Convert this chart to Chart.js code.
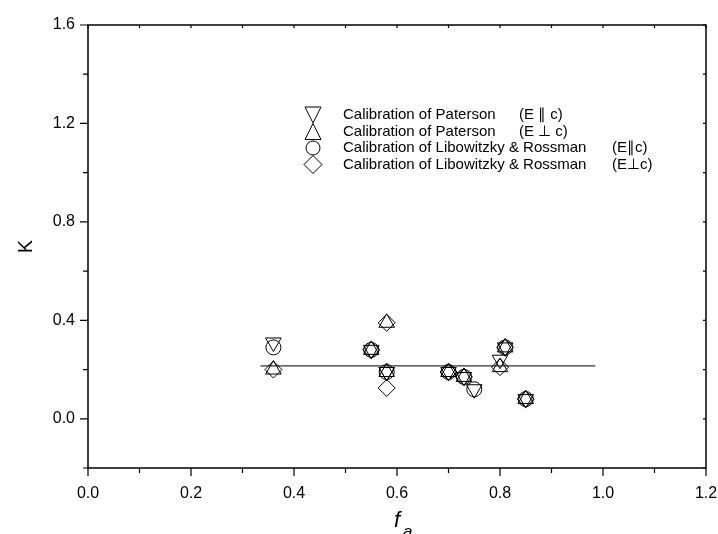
<!DOCTYPE html>
<html>
<head>
<meta charset="utf-8">
<script src="https://cdn.jsdelivr.net/npm/chart.js@4.4.1/dist/chart.umd.min.js"></script>
<style>
  html, body { margin: 0; padding: 0; background: #fff; }
</style>
</head>
<body>
<canvas id="kChart" width="718" height="534"></canvas>
<script>
// Paterson calibration, E || c  (down triangles)
const patParX = [0.36, 0.55, 0.58, 0.58, 0.70, 0.73, 0.75, 0.80, 0.81, 0.85];
const patParK = [0.31, 0.28, 0.19, 0.19, 0.19, 0.17, 0.12, 0.24, 0.29, 0.08];
// Paterson calibration, E _|_ c  (up triangles)
const patPerpX = [0.36, 0.55, 0.58, 0.58, 0.70, 0.73, 0.80, 0.81, 0.85];
const patPerpK = [0.20, 0.28, 0.39, 0.19, 0.19, 0.17, 0.21, 0.29, 0.08];
// Libowitzky & Rossman, E || c  (circles)
const libParX = [0.36, 0.55, 0.58, 0.70, 0.73, 0.75, 0.81, 0.85];
const libParK = [0.29, 0.28, 0.19, 0.19, 0.17, 0.12, 0.29, 0.08];
// Libowitzky & Rossman, E _|_ c  (diamonds)
const libPerpX = [0.36, 0.55, 0.58, 0.58, 0.70, 0.73, 0.80, 0.81, 0.85];
const libPerpK = [0.20, 0.28, 0.39, 0.125, 0.19, 0.17, 0.21, 0.29, 0.08];
// mean line
const meanX = [0.335, 0.985];
const meanK = [0.215, 0.215];

const xTicks = [0.0, 0.2, 0.4, 0.6, 0.8, 1.0, 1.2];
const yTicks = [0.0, 0.4, 0.8, 1.2, 1.6];

const legendLabels = [
  ['Calibration of Paterson', '(E \u2225 c)'],
  ['Calibration of Paterson', '(E \u22A5 c)'],
  ['Calibration of Libowitzky & Rossman', '(E\u2225c)'],
  ['Calibration of Libowitzky & Rossman', '(E\u22A5c)']
];

const pts = (xs, ys) => xs.map((x, i) => ({ x: x, y: ys[i] }));

const FONT = "'Liberation Sans', Arial, Helvetica, sans-serif";

// frame with ticks on all four sides (outer on left/bottom, small inner on top/right)
const framePlugin = {
  id: 'frame',
  afterDraw(chart) {
    const ctx = chart.ctx;
    const a = chart.chartArea;
    const xs = chart.scales.x, ys = chart.scales.y;
    ctx.save();
    ctx.strokeStyle = '#000';
    ctx.lineWidth = 1.5;
    ctx.strokeRect(a.left, a.top, a.right - a.left, a.bottom - a.top);
    ctx.lineWidth = 1.2;
    for (let i = 0; i < xTicks.length; i++) {
      const major = xs.getPixelForValue(xTicks[i]);
      ctx.beginPath();
      ctx.moveTo(major, a.bottom); ctx.lineTo(major, a.bottom + 8);
      ctx.moveTo(major, a.top); ctx.lineTo(major, a.top + 3);
      if (i < xTicks.length - 1) {
        const minor = xs.getPixelForValue((xTicks[i] + xTicks[i + 1]) / 2);
        ctx.moveTo(minor, a.bottom); ctx.lineTo(minor, a.bottom + 5);
        ctx.moveTo(minor, a.top); ctx.lineTo(minor, a.top + 3);
      }
      ctx.stroke();
    }
    const yMinor = [ys.min].concat(yTicks.slice(0, -1).map((v, i) => (v + yTicks[i + 1]) / 2));
    ctx.beginPath();
    yTicks.forEach(v => {
      const p = ys.getPixelForValue(v);
      ctx.moveTo(a.left, p); ctx.lineTo(a.left - 8, p);
      ctx.moveTo(a.right, p); ctx.lineTo(a.right - 3, p);
    });
    yMinor.forEach(v => {
      const p = ys.getPixelForValue(v);
      ctx.moveTo(a.left, p); ctx.lineTo(a.left - 5, p);
      ctx.moveTo(a.right, p); ctx.lineTo(a.right - 3, p);
    });
    ctx.stroke();

    // x title: f with subscript a
    ctx.fillStyle = '#000';
    ctx.font = 'italic 22px ' + FONT;
    ctx.textBaseline = 'alphabetic';
    ctx.fillText('f', 394, 527);
    ctx.font = 'italic 17px ' + FONT;
    ctx.fillText('a', 403, 537);

    // legend inside the plot
    const rowY = [115, 131.5, 148, 164.5];
    const mx = 313;
    ctx.lineWidth = 1;
    ctx.font = '15px ' + FONT;
    ctx.textBaseline = 'middle';
    chart.data.datasets.slice(0, 4).forEach((ds, i) => {
      const y = rowY[i];
      ctx.beginPath();
      if (ds.pointStyle === 'circle') {
        ctx.arc(mx, y, 7, 0, Math.PI * 2);
      } else if (ds.pointStyle === 'rectRot') {
        ctx.moveTo(mx - 9, y); ctx.lineTo(mx, y - 9); ctx.lineTo(mx + 9, y); ctx.lineTo(mx, y + 9);
        ctx.closePath();
      } else if (ds.pointRotation === 180) {
        ctx.moveTo(mx - 8, y - 8); ctx.lineTo(mx + 8, y - 8); ctx.lineTo(mx, y + 8); ctx.closePath();
      } else {
        ctx.moveTo(mx - 8, y + 8); ctx.lineTo(mx + 8, y + 8); ctx.lineTo(mx, y - 8); ctx.closePath();
      }
      ctx.stroke();
      ctx.fillText(legendLabels[i][0], 343, y);
      ctx.fillText(legendLabels[i][1], i < 2 ? 519 : 612, y);
    });
    ctx.restore();
  }
};

const markerBase = {
  type: 'scatter',
  showLine: false,
  borderColor: '#000',
  backgroundColor: 'rgba(0,0,0,0)',
  pointBorderWidth: 1,
  pointHoverRadius: 8
};

new Chart(document.getElementById('kChart').getContext('2d'), {
  type: 'scatter',
  data: {
    datasets: [
      Object.assign({}, markerBase, {
        label: legendLabels[0].join(' '),
        data: pts(patParX, patParK),
        pointStyle: 'triangle', pointRotation: 180, pointRadius: 9
      }),
      Object.assign({}, markerBase, {
        label: legendLabels[1].join(' '),
        data: pts(patPerpX, patPerpK),
        pointStyle: 'triangle', pointRotation: 0, pointRadius: 9
      }),
      Object.assign({}, markerBase, {
        label: legendLabels[2].join(' '),
        data: pts(libParX, libParK),
        pointStyle: 'circle', pointRadius: 7.5
      }),
      Object.assign({}, markerBase, {
        label: legendLabels[3].join(' '),
        data: pts(libPerpX, libPerpK),
        pointStyle: 'rectRot', pointRadius: 8.5
      }),
      {
        type: 'scatter',
        label: 'mean',
        data: pts(meanX, meanK),
        showLine: true,
        borderColor: '#333',
        borderWidth: 1.3,
        pointRadius: 0
      }
    ]
  },
  options: {
    responsive: false,
    animation: false,
    layout: { padding: { top: 25, right: 0, left: 0, bottom: 0 } },
    plugins: {
      legend: { display: false },
      tooltip: { enabled: false }
    },
    scales: {
      x: {
        type: 'linear',
        min: 0, max: 1.2,
        afterBuildTicks: s => { s.ticks = xTicks.map(v => ({ value: v })); },
        afterFit: s => { s.height = 66; s.paddingLeft = 0; s.paddingRight = 12; },
        grid: { display: false, drawTicks: false },
        border: { display: false },
        ticks: {
          color: '#000',
          padding: 16,
          maxRotation: 0,
          font: { family: FONT, size: 16 },
          callback: v => v.toFixed(1)
        }
      },
      y: {
        type: 'linear',
        min: -0.2, max: 1.6,
        afterBuildTicks: s => { s.ticks = yTicks.map(v => ({ value: v })); },
        afterFit: s => { s.width = 88; },
        grid: { display: false, drawTicks: false },
        border: { display: false },
        title: {
          display: true,
          text: 'K',
          color: '#000',
          font: { family: FONT, size: 20 },
          padding: { top: 14, bottom: 0 }
        },
        ticks: {
          color: '#000',
          padding: 13,
          font: { family: FONT, size: 16 },
          callback: v => v.toFixed(1)
        }
      }
    }
  },
  plugins: [framePlugin]
});
</script>
</body>
</html>
